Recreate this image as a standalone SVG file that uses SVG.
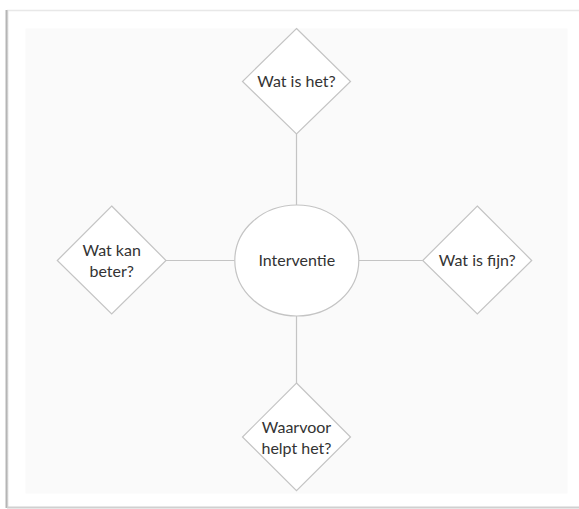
<svg xmlns="http://www.w3.org/2000/svg" width="579" height="509" viewBox="0 0 579 509">
  <defs>
    <linearGradient id="lshadow" x1="0" x2="1" y1="0" y2="0">
      <stop offset="0" stop-color="#ffffff"/>
      <stop offset="0.5" stop-color="#b5b5b5"/>
      <stop offset="1" stop-color="#e6e6e6"/>
    </linearGradient>
  </defs>
  <style>
    .shape { fill: #ffffff; stroke: #c4c4c4; stroke-width: 1.2; }
    .conn line { stroke: #c4c4c4; stroke-width: 1.2; }
    .lbl { font-family: "Lato", "Liberation Sans", sans-serif; font-size: 16px; fill: #333333; text-anchor: middle; }
  </style>
  <rect x="0" y="0" width="579" height="509" fill="#ffffff"/>
  <!-- page -->
  <rect x="7" y="10" width="572" height="497" fill="#ffffff"/>
  <line x1="7" y1="10.5" x2="579" y2="10.5" stroke="#e8e8e8" stroke-width="1.5"/>
  <rect x="4.5" y="10" width="4" height="498" fill="url(#lshadow)"/>
  <line x1="7" y1="507.5" x2="579" y2="507.5" stroke="#d0d0d0" stroke-width="2"/>
  <!-- canvas -->
  <rect x="25.5" y="28.5" width="542" height="465" fill="#fafafa"/>

  <g id="connectors" class="conn">
    <line x1="296.5" y1="134" x2="296.5" y2="205"/>
    <line x1="296.5" y1="316" x2="296.5" y2="383"/>
    <line x1="166" y1="260.5" x2="234.7" y2="260.5"/>
    <line x1="359" y1="260.5" x2="422.7" y2="260.5"/>
  </g>

  <g id="interventie">
    <ellipse class="shape" cx="296.8" cy="260.5" rx="62" ry="55.5"/>
    <text class="lbl" x="296.8" y="266">Interventie</text>
  </g>

  <g id="wat-is-het">
    <polygon class="shape" points="296.5,28.5 350.5,81.5 296.5,134 242.5,81.5"/>
    <text class="lbl" x="296.5" y="87">Wat is het?</text>
  </g>

  <g id="wat-kan-beter">
    <polygon class="shape" points="111.7,206 166,260.5 111.7,314 57.3,260.5"/>
    <text class="lbl" x="111.7" y="255.5">Wat kan</text>
    <text class="lbl" x="111.7" y="276.5">beter?</text>
  </g>

  <g id="wat-is-fijn">
    <polygon class="shape" points="477.3,206 531.7,260.5 477.3,314 422.7,260.5"/>
    <text class="lbl" x="477.3" y="266">Wat is fijn?</text>
  </g>

  <g id="waarvoor-helpt-het">
    <polygon class="shape" points="296.5,383 350.5,437 296.5,490.7 242.5,437"/>
    <text class="lbl" x="296.5" y="433">Waarvoor</text>
    <text class="lbl" x="296.5" y="453.5">helpt het?</text>
  </g>
</svg>
